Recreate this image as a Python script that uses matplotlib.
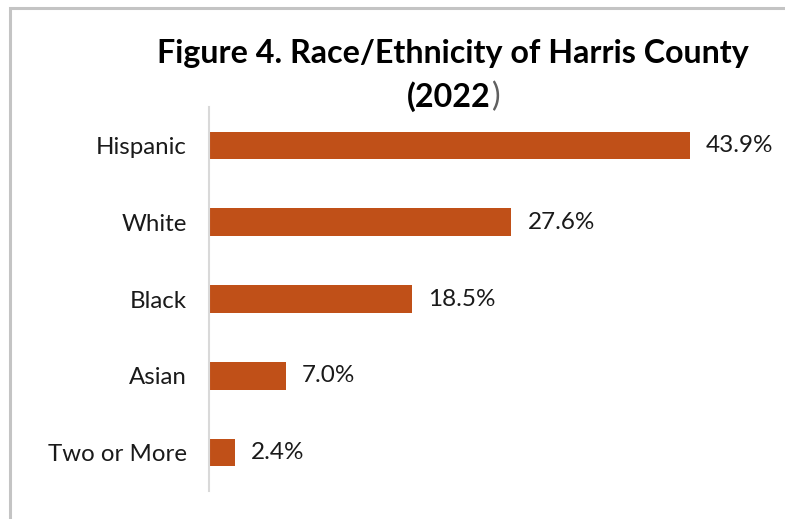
import matplotlib.pyplot as plt
from matplotlib.patches import Rectangle

categories = ["Hispanic", "White", "Black", "Asian", "Two or More"]
shares = [43.9, 27.6, 18.5, 7.0, 2.4]
value_labels = ["43.9%", "27.6%", "18.5%", "7.0%", "2.4%"]

BAR_COLOR = "#C05018"
TEXT_COLOR = "#1a1a1a"
FONT = ["Lato", "DejaVu Sans"]

W, H = 785, 519
fig = plt.figure(figsize=(W / 100, H / 100), dpi=100)

# outer chart frame (extends past the right and bottom edges)
fig.patches.append(Rectangle((10 / W, -0.1), 1.2, (H - 8) / H + 0.1,
                             transform=fig.transFigure, fill=False,
                             edgecolor="#c4c4c4", linewidth=2.2))

ax = fig.add_axes([209 / W, (H - 491) / H, (760 - 209) / W, (491 - 107) / H])
y = list(range(len(categories)))
ax.barh(y, shares, height=0.36, color=BAR_COLOR)
ax.set_ylim(len(categories) - 0.5, -0.5)
ax.set_xlim(0, 551 / 10.96)

for yi, v, lab in zip(y, shares, value_labels):
    ax.text(v + 1.45, yi, lab, va="center", ha="left", fontsize=17.5,
            color=TEXT_COLOR, family=FONT)

ax.set_yticks(y)
ax.set_yticklabels(categories, fontsize=17.3, color=TEXT_COLOR, family=FONT)
ax.tick_params(axis="y", length=0, pad=16)
ax.set_xticks([])
for side in ["top", "right", "bottom"]:
    ax.spines[side].set_visible(False)
ax.spines["left"].set_color("#d9d9d9")
ax.spines["left"].set_linewidth(1.5)

fig.text(453 / W, 1 - 53 / H, "Figure 4. Race/Ethnicity of Harris County",
         ha="center", va="center", fontsize=23.2, fontweight="bold",
         color="black", family=FONT)
fig.text(491 / W, 1 - 97 / H, "(2022", ha="right", va="center", fontsize=23.2,
         fontweight="bold", color="black", family=FONT)
fig.text(491 / W, 1 - 97 / H, ")", ha="left", va="center", fontsize=23.2,
         color="#606060", family=FONT)

fig.savefig("out.png", dpi=100)
